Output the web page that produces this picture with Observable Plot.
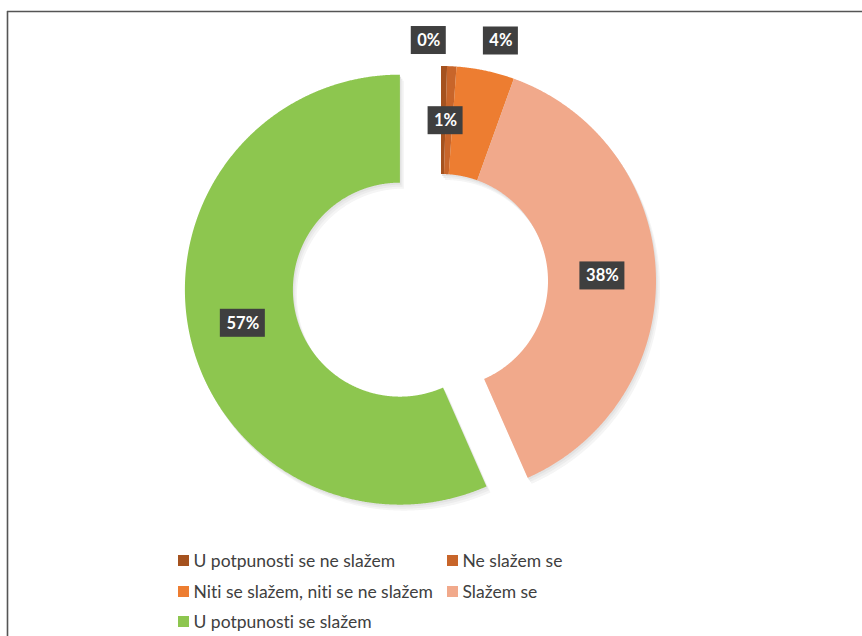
<!DOCTYPE html>
<html>
<head>
<meta charset="utf-8">
<script src="https://cdn.jsdelivr.net/npm/d3@7"></script>
<script src="https://cdn.jsdelivr.net/npm/@observablehq/plot@0.6"></script>
<style>
  html, body { margin: 0; padding: 0; background: white; }
  svg text { font-variant-ligatures: none; }
  g[aria-label="labelbox"] { filter: drop-shadow(2px 2px 2px rgba(0,0,0,0.4)); }
</style>
</head>
<body>
<div id="chart"></div>
<script>
// ---- data ----
const categories = [
  "U potpunosti se ne slažem",
  "Ne slažem se",
  "Niti se slažem, niti se ne slažem",
  "Slažem se",
  "U potpunosti se slažem"
];
const values = [0.45, 0.7, 4.35, 37.9, 56.6];
const labels = ["0%", "1%", "4%", "38%", "57%"];
const colors = ["#A5521F", "#C8652A", "#ED7D31", "#F1A98B", "#8DC64F"];

// ---- layout ----
const W = 862, H = 636;
const cx = 441, cy = 281, R = 215, r = 107;
const explode = [0, 0, 0, 0, 42];
const labelShift = [[-15, -80], [-4, 0], [26, -83], [0, 0], [0, 0]];
const legendCol = [178, 447];
const legendRow = [561, 592, 622];
const legendPos = [[0, 0], [1, 0], [0, 1], [1, 1], [0, 2]];

const arcs = d3.pie().sort(null).value(d => d)(values);
const step = 0.25 * Math.PI / 180;

const sliceSamples = [];
const labelData = [];
arcs.forEach((a, i) => {
  const mid = (a.startAngle + a.endAngle) / 2;
  const ox = cx + explode[i] * Math.sin(mid);
  const oy = cy - explode[i] * Math.cos(mid);
  const n = Math.max(2, Math.ceil((a.endAngle - a.startAngle) / step));
  for (let k = 0; k <= n; k++) {
    const t = a.startAngle + (a.endAngle - a.startAngle) * k / n;
    sliceSamples.push({
      key: categories[i],
      xo: ox + R * Math.sin(t), yo: oy - R * Math.cos(t),
      xi: ox + r * Math.sin(t), yi: oy - r * Math.cos(t)
    });
  }
  const lr = (R + r) / 2;
  const w = labels[i].length === 2 ? 35 : 45;
  labelData.push({
    text: labels[i],
    x: ox + lr * Math.sin(mid) + labelShift[i][0],
    y: oy - lr * Math.cos(mid) + labelShift[i][1],
    w
  });
});

const legendData = categories.map((c, i) => ({
  key: c,
  x: legendCol[legendPos[i][0]],
  y: legendRow[legendPos[i][1]]
}));

const shadow = (dx, dy, fill) => Plot.area(sliceSamples, {
  x1: d => d.xo + dx, y1: d => d.yo + dy,
  x2: d => d.xi + dx, y2: d => d.yi + dy,
  z: "key", fill
});

const chart = Plot.plot({
  width: W,
  height: H,
  margin: 0,
  x: {domain: [0, W], range: [0, W], axis: null},
  y: {domain: [0, H], range: [0, H], axis: null},
  color: {domain: categories, range: colors},
  style: {background: "white", fontFamily: "Lato, 'Open Sans', sans-serif"},
  marks: [
    // frame lines
    Plot.ruleY([11], {x1: 7, x2: W, stroke: "#555", strokeWidth: 1.6}),
    Plot.ruleX([7], {y1: 11, y2: H, stroke: "#555", strokeWidth: 1.6}),
    // soft slice shadow
    shadow(4, 6, "#f5f5f5"),
    shadow(2.5, 4, "#ececec"),
    shadow(1.2, 2, "#e2e2e2"),
    // donut slices
    Plot.area(sliceSamples, {x1: "xo", y1: "yo", x2: "xi", y2: "yi", z: "key", fill: "key"}),
    // data label boxes
    Plot.rect(labelData, {
      x1: d => d.x - d.w / 2, x2: d => d.x + d.w / 2,
      y1: d => d.y - 14, y2: d => d.y + 14,
      fill: "#3f3f3f", ariaLabel: "labelbox"
    }),
    Plot.text(labelData, {x: "x", y: "y", text: "text", fill: "white", fontWeight: "bold", fontSize: 16.5, fontFamily: "Lato"}),
    // legend
    Plot.rect(legendData, {
      x1: d => d.x, x2: d => d.x + 11,
      y1: d => d.y - 6, y2: d => d.y + 5,
      fill: "key"
    }),
    Plot.text(legendData, {x: d => d.x + 15, y: "y", text: "key", textAnchor: "start", fill: "#404040", fontSize: 17.5, fontFamily: "Lato"})
  ]
});
document.getElementById("chart").appendChild(chart);
</script>
</body>
</html>
